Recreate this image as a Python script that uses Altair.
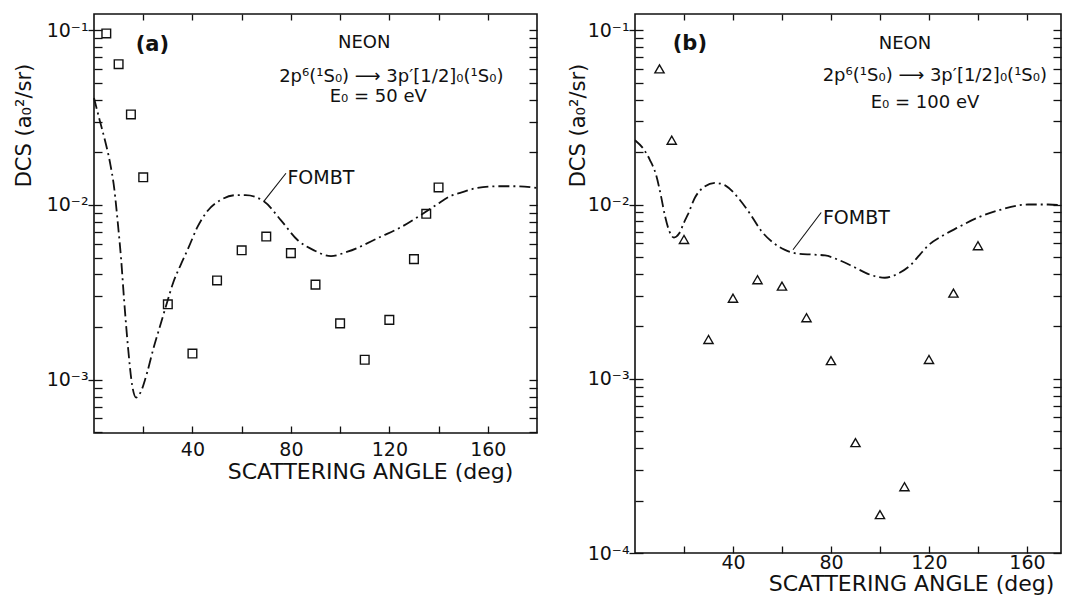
import altair as alt
import pandas as pd

# ---------------- data ----------------
# Panel (a): E0 = 50 eV
a_exp_angle = [5, 10, 15, 20, 30, 40, 50, 60, 70, 80, 90, 100, 110, 120, 130, 135, 140]
a_exp_dcs = [0.096, 0.064, 0.033, 0.0144, 0.0027, 0.00141, 0.0037, 0.0055, 0.0066,
             0.0053, 0.0035, 0.0021, 0.0013, 0.0022, 0.0049, 0.0089, 0.0126]

a_fombt_angle = [0, 2.4, 4.5, 6.5, 8.2, 9.8, 11.0, 12.2, 13.9, 15.5, 17.1, 18.8, 21.6,
                 24.1, 26.9, 29.8, 32.2, 35.1, 38.4, 42, 46.1, 51.4, 57.6, 61.6, 69,
                 75.9, 82.7, 89.4, 96.3, 103, 116.7, 125, 133, 139, 144.5, 149.4, 155.5,
                 163.7, 171.8, 180]
a_fombt_dcs = [0.041, 0.0302, 0.0233, 0.0175, 0.0125, 0.00756, 0.00494, 0.0029,
               0.00149, 0.00093, 0.00079, 0.00084, 0.0011, 0.0015, 0.00204, 0.0028,
               0.0036, 0.0045, 0.0057, 0.00746, 0.00923, 0.01067, 0.01138, 0.01138,
               0.0105, 0.0082, 0.0063, 0.0055, 0.0051, 0.0054, 0.0066, 0.0075, 0.0088,
               0.0100, 0.0112, 0.0118, 0.0125, 0.0128, 0.0128, 0.0125]

# Panel (b): E0 = 100 eV
b_exp_angle = [10, 15, 20, 30, 40, 50, 60, 70, 80, 90, 100, 110, 120, 130, 140]
b_exp_dcs = [0.060, 0.0234, 0.0063, 0.00168, 0.0029, 0.0037, 0.0034, 0.00224, 0.00127,
             0.00043, 0.000166, 0.00024, 0.00129, 0.0031, 0.0058]

b_fombt_angle = [0, 3.3, 6.1, 8.6, 10.6, 12.2, 13.9, 15.9, 18.0, 20.0, 21.6, 24.5, 27.8,
                 32.7, 37.1, 42, 46.9, 51.4, 56.3, 61, 66.5, 72.7, 77.6, 83.7, 89.8,
                 95.9, 102, 107.3, 112.7, 116.3, 119.6, 125.7, 131.8, 140, 148.2, 160.4,
                 168.6, 173.9]
b_fombt_dcs = [0.0234, 0.0210, 0.0180, 0.0148, 0.0112, 0.00865, 0.0071, 0.00646,
               0.00681, 0.00788, 0.00877, 0.01097, 0.0125, 0.0133, 0.0128, 0.01097,
               0.00887, 0.0071, 0.00605, 0.00551, 0.00522, 0.00516, 0.0051, 0.00477,
               0.00435, 0.00396, 0.0038, 0.00401, 0.00452, 0.00516, 0.0058, 0.00664,
               0.00738, 0.00842, 0.00924, 0.0100, 0.0100, 0.0099]

x_tick_values = [20, 40, 60, 80, 100, 120, 140, 160]

FONT = "DejaVu Sans"
BLACK = "#111111"


def log_ticks(lo, hi):
    vals = []
    for e in range(lo, hi):
        for m in range(1, 10):
            vals.append(float(f"{m}e{e}"))
    vals.append(float(f"1e{hi}"))
    return vals


MAJOR_TEST = "datum.value == 0.1 || datum.value == 0.01 || datum.value == 0.001 || datum.value == 0.0001"
Y_LABEL = ("datum.value == 0.1 ? '10\u207b\u00b9' : datum.value == 0.01 ? '10\u207b\u00b2' : "
           "datum.value == 0.001 ? '10\u207b\u00b3' : datum.value == 0.0001 ? '10\u207b\u2074' : ''")


def panel(exp_angle, exp_dcs, fit_angle, fit_dcs, shape, msize, ydom, xmax, w, h,
          ylo, texts, leader, fombt_pos, xtitle_x, xtitle_y, ytitle_x, ytitle_y,
          xlab_pad):
    exp_df = pd.DataFrame({"angle": exp_angle, "dcs": exp_dcs})
    fit_df = pd.DataFrame({"angle": fit_angle, "dcs": fit_dcs})
    yvals = log_ticks(ylo, -1)
    xs = alt.Scale(domain=[0, xmax], nice=False, zero=False)
    ys = alt.Scale(type="log", domain=ydom, nice=False)

    major_size = {"condition": {"test": MAJOR_TEST, "value": 14}, "value": 8}

    x_axis = alt.Axis(values=x_tick_values, orient="bottom", offset=-7, tickSize=7,
                      domain=False, grid=False, labelExpr="datum.value % 40 == 0 ? datum.label : ''",
                      labelFontSize=19, labelPadding=xlab_pad, title="SCATTERING ANGLE (deg)",
                      titleFontSize=22, titleFontWeight="normal", titleX=xtitle_x,
                      titleY=xtitle_y, titleAlign="center", titleBaseline="middle",
                      labelFlush=False, labelOverlap=False, minExtent=0)
    y_axis = alt.Axis(values=yvals, orient="left", offset=-8, tickSize=major_size,
                      domain=False, grid=False, labelExpr=Y_LABEL, labelFontSize=19,
                      labelPadding=0, title="DCS (a\u2080\u00b2/sr)", titleFontSize=21,
                      titleFontWeight="normal", titleX=ytitle_x, titleY=ytitle_y,
                      titleAngle=-90, titleAlign="center", titleBaseline="middle",
                      labelOverlap=False, labelFlush=False, minExtent=0)

    fit = alt.Chart(fit_df).mark_line(
        color=BLACK, strokeWidth=1.8, strokeDash=[11, 4, 2, 4], interpolate="monotone"
    ).encode(
        x=alt.X("angle:Q", scale=xs, axis=x_axis),
        y=alt.Y("dcs:Q", scale=ys, axis=y_axis),
    )

    frame = alt.Chart(fit_df).mark_line(opacity=0).encode(
        x=alt.X("angle:Q", scale=xs, axis=alt.Axis(values=x_tick_values, orient="top", offset=-6,
                                                    tickSize=6, labels=False, domain=False,
                                                    grid=False, title=None, minExtent=0,
                                                    maxExtent=6)),
        y=alt.Y("dcs:Q", scale=ys, axis=alt.Axis(values=yvals, orient="right", offset=-8,
                                                  tickSize=8, labels=False,
                                                  domain=False, grid=False, title=None,
                                                  minExtent=0, maxExtent=8)),
    )

    pts = alt.Chart(exp_df).mark_point(
        shape=shape, filled=False, color=BLACK, strokeWidth=1.4, size=msize, opacity=1
    ).encode(
        x=alt.X("angle:Q", scale=xs, axis=None),
        y=alt.Y("dcs:Q", scale=ys, axis=None),
    )

    lead_df = pd.DataFrame({"angle": [leader[0][0], leader[1][0]],
                            "dcs": [leader[0][1], leader[1][1]]})
    lead = alt.Chart(lead_df).mark_line(color=BLACK, strokeWidth=1.1).encode(
        x=alt.X("angle:Q", scale=xs, axis=None),
        y=alt.Y("dcs:Q", scale=ys, axis=None),
    )

    layers = [fit, frame, pts, lead]

    fombt_df = pd.DataFrame({"angle": [fombt_pos[0]], "dcs": [fombt_pos[1]], "t": ["FOMBT"]})
    layers.append(alt.Chart(fombt_df).mark_text(
        align="left", baseline="middle", font=FONT, fontSize=19, color=BLACK
    ).encode(x=alt.X("angle:Q", scale=xs, axis=None), y=alt.Y("dcs:Q", scale=ys, axis=None),
             text="t:N"))

    for (ang, val, txt, size, weight) in texts:
        df = pd.DataFrame({"angle": [ang], "dcs": [val], "t": [txt]})
        layers.append(alt.Chart(df).mark_text(
            align="center", baseline="middle", font=FONT, fontSize=size,
            fontWeight=weight, color=BLACK
        ).encode(x=alt.X("angle:Q", scale=xs, axis=None),
                 y=alt.Y("dcs:Q", scale=ys, axis=None), text="t:N"))

    return alt.layer(*layers).resolve_axis(x="independent", y="independent").properties(
        width=w, height=h)


TRANS = "2p\u2076(\u00b9S\u2080) \u27f6 3p\u2032[1/2]\u2080(\u00b9S\u2080)"

left = panel(
    a_exp_angle, a_exp_dcs, a_fombt_angle, a_fombt_dcs, "square", 75,
    [4.95e-4, 0.124], 180, 443, 419, -4,
    [(23.7, 0.0822, "(a)", 21, "bold"),
     (109.8, 0.0845, "NEON", 18, "normal"),
     (120.8, 0.0542, TRANS, 18, "normal"),
     (115.5, 0.0413, "E\u2080 = 50 eV", 18, "normal")],
    [(69, 0.0105), (78, 0.0152)], (78.6, 0.0142),
    276, 45, -78, 111, 7,
)

right = panel(
    b_exp_angle, b_exp_dcs, b_fombt_angle, b_fombt_dcs, "triangle-up", 85,
    [1e-4, 0.124], 173.9, 426, 539, -4,
    [(22.4, 0.083, "(b)", 21, "bold"),
     (110.2, 0.083, "NEON", 18, "normal"),
     (122.4, 0.0546, TRANS, 18, "normal"),
     (118.4, 0.038, "E\u2080 = 100 eV", 18, "normal")],
    [(64.5, 0.0055), (76, 0.009)], (76.7, 0.0084),
    276, 37, -65, 111, 0,
)

chart = alt.hconcat(left, right, spacing=24).properties(
    padding={"left": 4, "top": 4, "right": 0, "bottom": 0},
    background="white",
).configure_view(stroke=BLACK, strokeWidth=1.6).configure_axis(
    labelFont=FONT, titleFont=FONT, labelColor=BLACK, titleColor=BLACK, tickColor=BLACK,
    tickWidth=1.3,
)

chart.save("out.html", embed_options={"renderer": "svg", "actions": False})
